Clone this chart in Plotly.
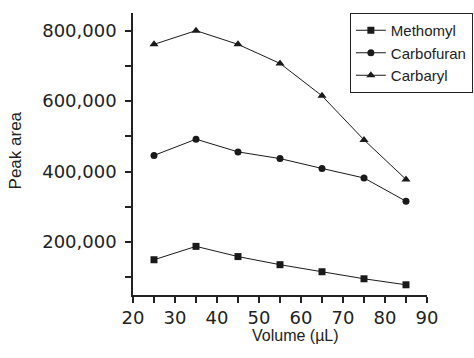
import plotly.graph_objects as go

volume = [25, 35, 45, 55, 65, 75, 85]
methomyl = [150000, 188000, 159000, 136000, 116000, 96000, 79000]
carbofuran = [446000, 492000, 456000, 437000, 409000, 382000, 316000]
carbaryl = [761000, 800000, 761000, 707000, 615000, 490000, 378000]

series = [
    ("Methomyl", methomyl, "square", 7),
    ("Carbofuran", carbofuran, "circle", 7),
    ("Carbaryl", carbaryl, "triangle-up", 8),
]

fig = go.Figure()
for name, vals, sym, sz in series:
    fig.add_trace(go.Scatter(
        x=volume, y=vals, name=name, mode="lines+markers",
        line=dict(color="#1a1a1a", width=1),
        marker=dict(symbol=sym, size=sz, color="#1a1a1a"),
    ))

tickfont = dict(family="DejaVu Sans", size=18, color="#222")
fig.update_layout(
    width=474, height=358,
    margin=dict(l=133, r=47, t=13, b=63, autoexpand=False),
    paper_bgcolor="white", plot_bgcolor="white",
    showlegend=True,
    legend=dict(
        x=1.156, y=1.0, xanchor="right", yanchor="top",
        bordercolor="#222", borderwidth=1, bgcolor="white",
        font=dict(family="Liberation Sans", size=15, color="#222"),
        tracegroupgap=0, itemwidth=30,
    ),
    xaxis=dict(
        range=[20, 90], tick0=20, dtick=10, showgrid=False, zeroline=False,
        showline=True, linecolor="#222", linewidth=1.5,
        ticks="outside", ticklen=6, tickwidth=1.5, tickcolor="#222",
        tickfont=tickfont,
        minor=dict(dtick=5, ticks="outside", ticklen=6, tickwidth=1.5, tickcolor="#222"),
    ),
    yaxis=dict(
        range=[50000, 850000], tick0=0, dtick=200000, showgrid=False, zeroline=False,
        showline=True, linecolor="#222", linewidth=1.5,
        ticks="outside", ticklen=6, tickwidth=1.5, tickcolor="#222",
        tickformat=",d", tickfont=tickfont, ticklabelstandoff=5,
        minor=dict(dtick=100000, ticks="outside", ticklen=6, tickwidth=1.5, tickcolor="#222"),
    ),
    annotations=[
        dict(text="Volume (µL)", xref="paper", yref="paper", x=0.554, y=-0.145,
             xanchor="center", yanchor="middle", showarrow=False,
             font=dict(family="Liberation Sans", size=16, color="#222")),
        dict(text="Peak area", xref="paper", yref="paper", x=-0.40, y=0.514,
             xanchor="center", yanchor="middle", showarrow=False, textangle=-90,
             font=dict(family="Liberation Sans", size=17, color="#222")),
    ],
)

fig.write_html("out.html")
